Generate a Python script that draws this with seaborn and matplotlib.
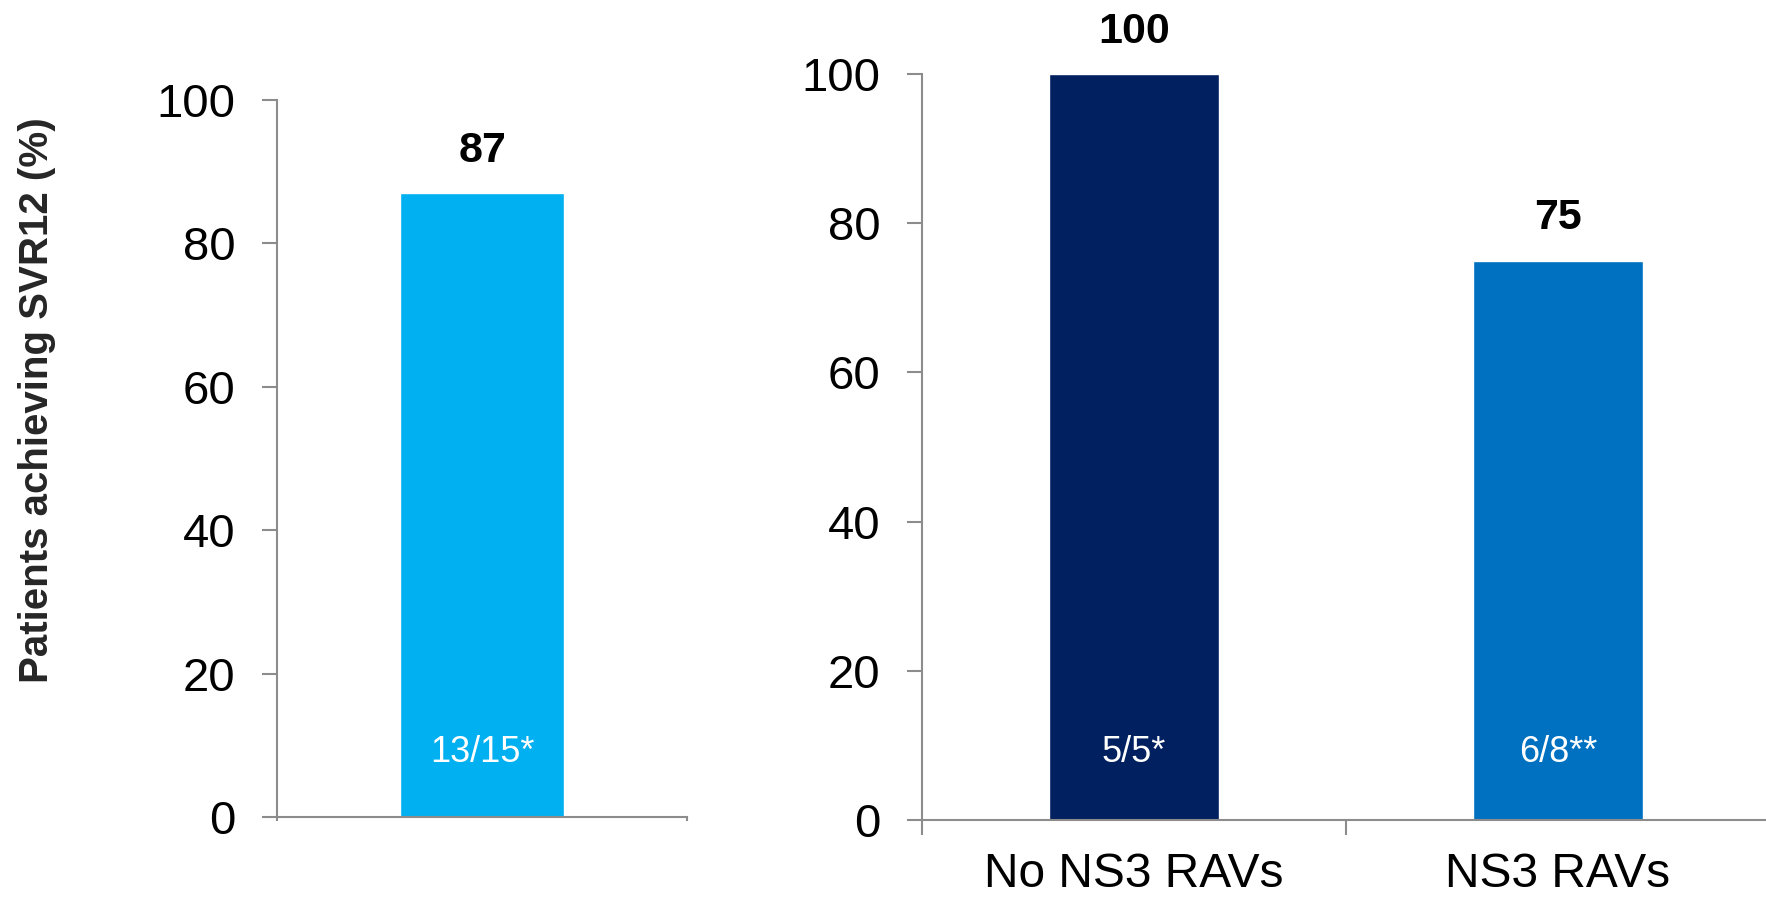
import matplotlib
matplotlib.use("Agg")
import matplotlib.pyplot as plt
import seaborn as sns
import pandas as pd

# Data
overall_groups = ["All patients"]
overall_svr = [87]
overall_counts = ["13/15*"]
overall_colors = ["#00B0F0"]

rav_groups = ["No NS3 RAVs", "NS3 RAVs"]
rav_svr = [100, 75]
rav_counts = ["5/5*", "6/8**"]
rav_colors = ["#002060", "#0070C0"]

y_ticks = [0, 20, 40, 60, 80, 100]
y_label = "Patients achieving SVR12 (%)"

sns.set_theme(style="white")
plt.rcParams["font.family"] = ["Liberation Sans", "DejaVu Sans"]

AXIS_GRAY = "#8C8C8C"

fig = plt.figure(figsize=(17.66, 8.97), dpi=100)
ax_l = fig.add_axes([0.1569, 0.0892, 0.2322, 0.7993])
ax_r = fig.add_axes([0.5221, 0.0858, 0.4802, 0.8317])


def draw_panel(ax, groups, values, counts, colors, xtick_len):
    df = pd.DataFrame({"group": groups, "svr": values})
    sns.barplot(data=df, x="group", y="svr", hue="group", order=groups,
                hue_order=groups, palette=colors, width=0.4, saturation=1,
                legend=False, ax=ax)
    n = len(groups)
    ax.set_xlim(-0.5, n - 0.5)
    ax.set_ylim(0, 100)
    ax.set_yticks(y_ticks)
    ax.set_yticklabels([str(t) for t in y_ticks])
    ax.tick_params(axis="y", length=11, width=1.5, color=AXIS_GRAY, pad=19,
                   labelsize=34, labelcolor="black", left=True)
    # category boundaries carry tick marks; labels sit at centers
    ax.set_xticks([i - 0.5 for i in range(n + 1)])
    ax.set_xticklabels([""] * (n + 1))
    ax.tick_params(axis="x", which="major", length=xtick_len, width=1.5,
                   color=AXIS_GRAY, bottom=True)
    ax.set_xlabel("")
    ax.set_ylabel("")
    for side in ("top", "right"):
        ax.spines[side].set_visible(False)
    for side in ("left", "bottom"):
        ax.spines[side].set_color(AXIS_GRAY)
        ax.spines[side].set_linewidth(1.5)
    for i, (v, c) in enumerate(zip(values, counts)):
        ax.annotate(str(v), xy=(i, v), xytext=(0, 16), textcoords="offset points",
                    ha="center", va="bottom", fontsize=31, fontweight="bold",
                    color="black")
        ax.text(i, 9, c, ha="center", va="center", fontsize=26, color="white")


draw_panel(ax_l, overall_groups, overall_svr, overall_counts, overall_colors, 3)
draw_panel(ax_r, rav_groups, rav_svr, rav_counts, rav_colors, 11)

ax_r.set_xticks(range(len(rav_groups)), minor=True)
ax_r.set_xticklabels(rav_groups, minor=True)
ax_r.tick_params(axis="x", which="minor", length=0, pad=23, labelsize=34.5,
                 labelcolor="black")

ax_l.set_ylabel(y_label, fontsize=29, fontweight="bold", va="center")
ax_l.yaxis.set_label_coords(-0.585, 0.582)

fig.savefig("out.png", dpi=100, facecolor="white")
